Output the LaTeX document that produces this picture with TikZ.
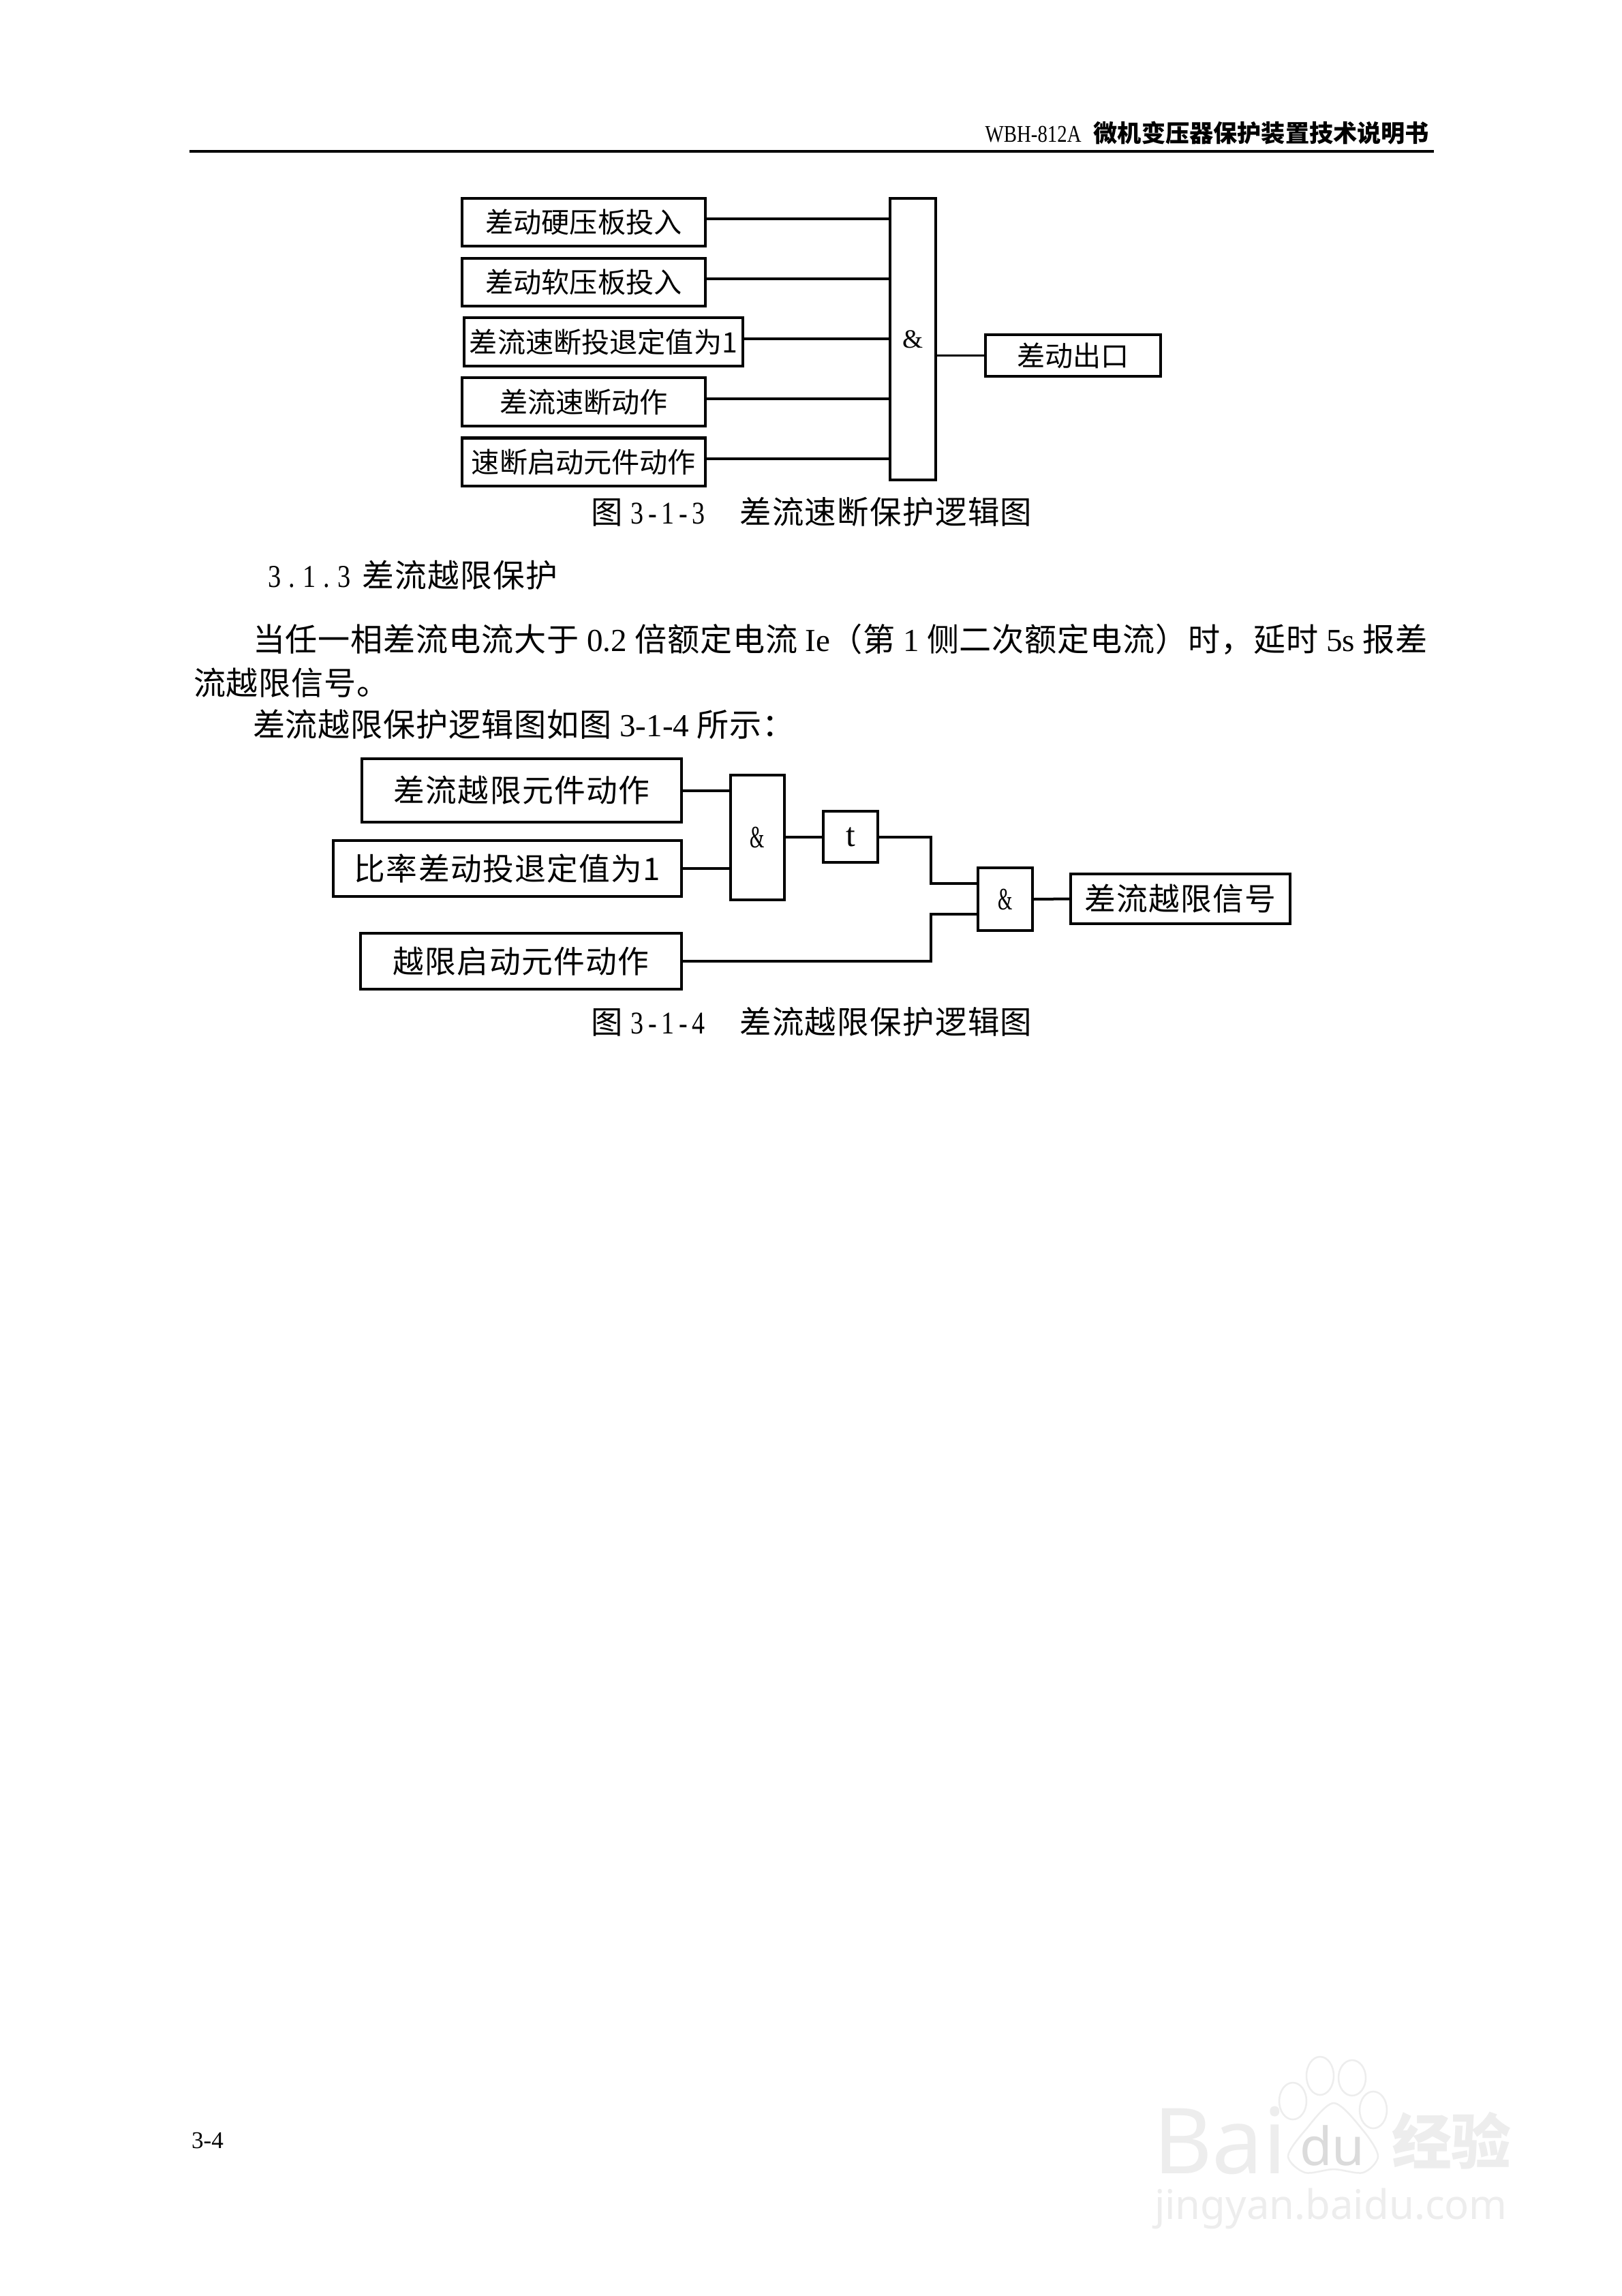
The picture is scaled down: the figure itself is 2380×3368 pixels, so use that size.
\documentclass[tikz,border=0pt]{standalone}
\usepackage{fontspec}
\setmainfont{Noto Sans CJK SC}
\newfontfamily\lat{Liberation Serif}
\newfontfamily\narrowlat[FakeStretch=0.82, LetterSpace=14]{Liberation Serif}
\newfontfamily\headlat[FakeStretch=0.82]{Liberation Serif}
\newfontfamily\amplat[FakeStretch=0.6]{Liberation Serif}
\newfontfamily\spaced[LetterSpace=3]{Noto Sans CJK SC}
\newfontfamily\bodyfont[LetterSpace=1.8]{Noto Sans CJK SC}
\newfontfamily\logofont{Noto Sans}
\begin{document}
\begin{tikzpicture}[x=0.01cm, y=-0.01cm,
    every node/.style={inner sep=0pt, outer sep=0pt, font=\fontsize{11.7}{14}\selectfont},
    box/.style={draw, line width=0.4mm, minimum width=35.7mm, minimum height=7mm},
    boxb/.style={draw, line width=0.45mm, minimum height=8.2mm, font=\fontsize{13}{15}\spaced},
    para/.style={anchor=west, font=\fontsize{13.4}{15}\bodyfont},
    paw/.style={color=gray!14, line width=0.25mm}]
    \path[fill=white, use as bounding box] (0,0) rectangle (2380,3368);
    % Page head
    \node[anchor=east, font=\fontsize{10}{12}\selectfont\bfseries] (headtext) at (2097,195) {{\headlat\mdseries WBH-812A}\hspace{1mm} 微机变压器保护装置技术说明书};
    \coordinate (ruleleft) at (278,222);
    \coordinate (ruleright) at (2104,222);
    \draw[line width=0.4mm] (ruleleft) -- (ruleright);
    % Figure 3-1-3
    \node[box] (hard) at (856.5,326) {差动硬压板投入};
    \node[box] (soft) at (856.5,414) {差动软压板投入};
    \node[box, minimum width=40.9mm] (quick) at (885.5,501.5) {差流速断投退定值为1};
    \node[box] (act) at (856.5,589.5) {差流速断动作};
    \node[box] (start) at (856.5,677.5) {速断启动元件动作};
    \node[box, minimum width=6.7mm, minimum height=41.3mm, font=\fontsize{11}{13}\lat] (andone) at (1339.5,497.5) {\&};
    \node[box, minimum width=25.7mm, minimum height=6.1mm] (exit) at (1574.5,521.5) {差动出口};
    \draw[line width=0.33mm] ([yshift=0.5mm]hard.east) -- ([yshift=0.5mm]hard.east -| andone.west);
    \draw[line width=0.33mm] ([yshift=0.5mm]soft.east) -- ([yshift=0.5mm]soft.east -| andone.west);
    \draw[line width=0.33mm] ([yshift=0.45mm]quick.east) -- ([yshift=0.45mm]quick.east -| andone.west);
    \draw[line width=0.33mm] ([yshift=0.45mm]act.east) -- ([yshift=0.45mm]act.east -| andone.west);
    \draw[line width=0.33mm] ([yshift=0.45mm]start.east) -- ([yshift=0.45mm]start.east -| andone.west);
    \draw[line width=0.33mm] (exit.west -| andone.east) -- (exit.west);
    \node[font=\fontsize{13.2}{15}\spaced] (capone) at (1191,751) {图 {\narrowlat 3-1-3}\hspace{1.1em}差流速断保护逻辑图};
    % Text
    \node[para, font=\fontsize{13.3}{15}\spaced] (sec) at (393,844) {{\narrowlat\addfontfeature{LetterSpace=24}3.1.3}\hspace{0.1em} 差流越限保护};
    \node[para] (lineone) at (371,938) {当任一相差流电流大于 {\lat 0.2} 倍额定电流 {\lat Ie}（第 {\lat 1} 侧二次额定电流）时，延时 {\lat 5s} 报差};
    \node[para] (linetwo) at (284,1002) {流越限信号。};
    \node[para] (linethree) at (371,1063) {差流越限保护逻辑图如图 {\lat 3-1-4} 所示：};
    % Figure 3-1-4
    \node[boxb, minimum width=46.9mm, minimum height=9.3mm] (over) at (765.5,1159.5) {差流越限元件动作};
    \node[boxb, minimum width=51.1mm] (ratio) at (744.5,1274) {比率差动投退定值为1};
    \node[boxb, minimum width=47.1mm] (limit) at (764.5,1410) {越限启动元件动作};
    \node[boxb, minimum width=7.9mm, minimum height=18.3mm, font=\fontsize{13}{15}\amplat] (andtwo) at (1111.5,1228.5) {\&};
    \node[boxb, minimum width=8mm, minimum height=7.5mm, font=\fontsize{14}{16}\lat] (timer) at (1248,1227.5) {t};
    \node[boxb, minimum width=8mm, minimum height=9.2mm, font=\fontsize{13}{15}\amplat] (andthree) at (1475,1319) {\&};
    \node[boxb, minimum width=32.2mm, minimum height=7.3mm] (signal) at (1732,1318.5) {差流越限信号};
    \coordinate (bendone) at (1366,1296);
    \coordinate (bendtwo) at (1366,1341);
    \draw[line width=0.4mm] (over.east) -- (over.east -| andtwo.west);
    \draw[line width=0.4mm] (ratio.east) -- (ratio.east -| andtwo.west);
    \draw[line width=0.4mm] (andtwo.east |- timer.west) -- (timer.west);
    \draw[line width=0.4mm] (timer.east) -| (bendone) -- (bendone -| andthree.west);
    \draw[line width=0.4mm] (limit.east) -| (bendtwo) -- (bendtwo -| andthree.west);
    \draw[line width=0.4mm] (andthree.east) -- (signal.west);
    \node[font=\fontsize{13.2}{15}\spaced] (captwo) at (1191,1499) {图 {\narrowlat 3-1-4}\hspace{1.1em}差流越限保护逻辑图};
    % Page number
    \node[anchor=west, font=\fontsize{10}{12}\lat] (pagenum) at (281,3140) {3-4};
    % Watermark
    \draw[paw] (1897,3082) ellipse (20 and 27);
    \draw[paw] (1937,3045) ellipse (20 and 28);
    \draw[paw] (1984,3048) ellipse (20 and 26);
    \draw[paw] (2015,3095) ellipse (20 and 27);
    \draw[paw] plot[smooth cycle] coordinates {(1957,3085) (1915,3125) (1890,3163) (1915,3187) (1957,3182) (2000,3187) (2022,3163) (2000,3125)};
    \node[anchor=west, text=gray!14, font=\fontsize{38}{40}\logofont\bfseries] (bai) at (1692,3140) {Bai};
    \node[text=gray!28, font=\fontsize{22}{24}\logofont] (du) at (1955,3147) {du};
    \node[anchor=west, text=gray!14, font=\fontsize{25}{27}\selectfont\bfseries] (jy) at (2042,3140) {经验};
    \node[anchor=west, text=gray!14, font=\fontsize{17}{20}\logofont\bfseries] (url) at (1694,3240) {jingyan.baidu.com};
\end{tikzpicture}
\end{document}
